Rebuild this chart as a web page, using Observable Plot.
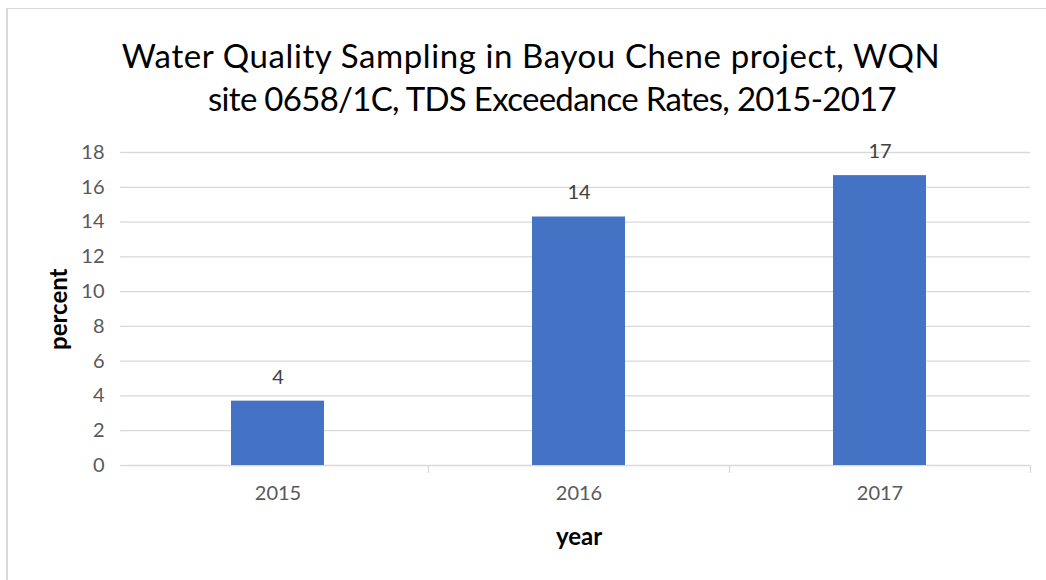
<!DOCTYPE html>
<html>
<head>
<meta charset="utf-8">
<script src="https://cdn.jsdelivr.net/npm/d3@7"></script>
<script src="https://cdn.jsdelivr.net/npm/@observablehq/plot@0.6"></script>
<style>
  html, body { margin: 0; padding: 0; background: #fff; }
  body { width: 1046px; height: 580px; position: relative; overflow: hidden; font-family: Lato, "Open Sans", sans-serif; }
  #frame { position: absolute; left: 6px; top: 8px; width: 1200px; height: 700px; border-left: 2px solid #d9d9d9; border-top: 1px solid #d9d9d9; }
  .title { position: absolute; transform: translateX(-50%); white-space: nowrap; font-size: 33px; color: #000; line-height: 1; }
  #chart { position: absolute; left: 0; top: 135px; }
</style>
</head>
<body>
<div id="frame"></div>
<div class="title" id="t1" style="left:531px; top:39px; letter-spacing:0.6px;">Water Quality Sampling in Bayou Chene project, WQN</div>
<div class="title" id="t2" style="left:552px; top:82px; letter-spacing:-0.7px;">site 0658/1C, TDS Exceedance Rates, 2015-2017</div>
<div id="chart"></div>
<script>
const years = ["2015", "2016", "2017"];
const percents = [3.7, 14.29, 16.67];
const labels = ["4", "14", "17"];
const yTicks = [0, 2, 4, 6, 8, 10, 12, 14, 16, 18];

const data = years.map((y, i) => ({year: y, value: percents[i], label: labels[i]}));

const W = 1046, H = 445;
const mL = 127, mR = 16, mT = 17, mB = 115;
const halfStep = (W - mL - mR) / years.length / 2;
const grey = "#d9d9d9";
const font = "Lato, 'Open Sans', sans-serif";

const plot = Plot.plot({
  width: W,
  height: H,
  marginLeft: mL,
  marginRight: mR,
  marginTop: mT,
  marginBottom: mB,
  style: {fontFamily: font, background: "transparent", overflow: "visible"},
  x: {domain: years, paddingInner: 0.69, paddingOuter: 0.345, align: 0.5, label: null},
  y: {domain: [0, 18], label: null},
  marks: [
    Plot.ruleY(yTicks, {y: d => d, stroke: grey, strokeWidth: 1.3}),
    Plot.ruleX([0], {frameAnchor: "left", y1: 18, y2: 0, insetBottom: -8, stroke: grey, strokeWidth: 1.3}),
    Plot.ruleX(years, {x: d => d, dx: halfStep, y1: 0, y2: 0, insetBottom: -8, stroke: grey, strokeWidth: 1.3}),
    Plot.barY(data, {x: "year", y: "value", fill: "#4472C4"}),
    Plot.text(data, {x: "year", y: "value", text: "label", dy: -24, fontSize: 20, fill: "#404040"}),
    Plot.axisY(yTicks, {tickSize: 7, stroke: grey, strokeWidth: 1.3, tickPadding: 16, fontSize: 20, fill: "#595959", label: null}),
    Plot.axisX({tickSize: 0, tickPadding: 20, fontSize: 20, fill: "#595959", label: null}),
    Plot.text(["percent"], {frameAnchor: "left", dx: -68, dy: 41, rotate: -90, fontSize: 24, fontWeight: "bold", fill: "#000"}),
    Plot.text(["year"], {frameAnchor: "bottom", dy: 79, fontSize: 24, fontWeight: "bold", fill: "#000"})
  ]
});
document.getElementById("chart").appendChild(plot);
</script>
</body>
</html>
